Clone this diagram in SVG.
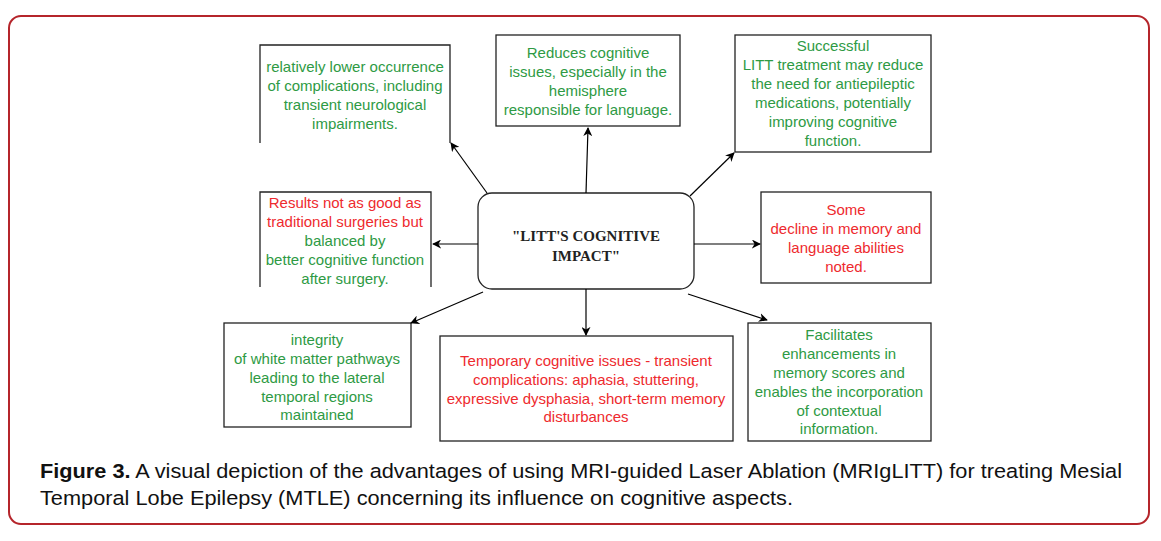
<svg xmlns="http://www.w3.org/2000/svg" width="1161" height="541" viewBox="0 0 1161 541">
<style>
.g{fill:#2e9a44}.r{fill:#ee2a2e}
text{font-family:"Liberation Sans",Arial,sans-serif;font-size:15px;text-anchor:middle}
.b{fill:none;stroke:#222;stroke-width:1.3}
.c line{stroke:#000;stroke-width:1.2;marker-end:url(#a)}
.cap{font-size:20.5px;text-anchor:start;fill:#111}
</style>
<defs><marker id="a" viewBox="0 0 10 10" refX="9" refY="5" markerWidth="9" markerHeight="9" orient="auto" markerUnits="userSpaceOnUse"><path d="M0,0L10,5L0,10L3,5z" fill="#000"/></marker></defs>
<rect x="0" y="0" width="1161" height="541" fill="#fff"/>
<rect x="9" y="16" width="1140" height="508" rx="12" fill="none" stroke="#b5252b" stroke-width="2"/>
<g id="n1"><path class="b" d="M260,143V45H450V143"/><text class="g" x="355" y="72">relatively lower occurrence</text><text class="g" x="355" y="91">of complications, including</text><text class="g" x="355" y="110">transient neurological</text><text class="g" x="355" y="129">impairments.</text></g>
<g id="n2"><rect class="b" x="496" y="35" width="184" height="91"/><text class="g" x="588" y="58">Reduces cognitive</text><text class="g" x="588" y="77">issues, especially in the</text><text class="g" x="588" y="96">hemisphere</text><text class="g" x="588" y="115">responsible for language.</text></g>
<g id="n3"><rect class="b" x="735" y="35" width="196" height="117"/><text class="g" x="833" y="51">Successful</text><text class="g" x="833" y="70">LITT treatment may reduce</text><text class="g" x="833" y="89">the need for antiepileptic</text><text class="g" x="833" y="108">medications, potentially</text><text class="g" x="833" y="127">improving cognitive</text><text class="g" x="833" y="146">function.</text></g>
<g id="n4"><path class="b" d="M260,287V192H431V287"/><text class="r" x="345" y="208">Results not as good as</text><text class="r" x="345" y="227">traditional surgeries but</text><text class="g" x="345" y="246">balanced by</text><text class="g" x="345" y="265">better cognitive function</text><text class="g" x="345" y="284">after surgery.</text></g>
<g id="center"><rect class="b" x="478" y="193" width="216" height="96" rx="14"/><text x="586" y="241" style="font-family:'Liberation Serif',serif;font-weight:bold;font-size:15px;fill:#222">"LITT'S COGNITIVE</text><text x="586" y="261" style="font-family:'Liberation Serif',serif;font-weight:bold;font-size:15px;fill:#222">IMPACT"</text></g>
<g id="n5"><rect class="b" x="761" y="192" width="170" height="91"/><text class="r" x="846" y="215">Some</text><text class="r" x="846" y="234">decline in memory and</text><text class="r" x="846" y="253">language abilities</text><text class="r" x="846" y="272">noted.</text></g>
<g id="n6"><rect class="b" x="224" y="323" width="187" height="104"/><text class="g" x="317" y="345">integrity</text><text class="g" x="317" y="364">of white matter pathways</text><text class="g" x="317" y="383">leading to the lateral</text><text class="g" x="317" y="402">temporal regions</text><text class="g" x="317" y="420">maintained</text></g>
<g id="n7"><rect class="b" x="440" y="336" width="293" height="105"/><text class="r" x="586" y="366">Temporary cognitive issues - transient</text><text class="r" x="586" y="385">complications: aphasia, stuttering,</text><text class="r" x="586" y="404">expressive dysphasia, short-term memory</text><text class="r" x="586" y="422">disturbances</text></g>
<g id="n8"><rect class="b" x="748" y="323" width="183" height="118"/><text class="g" x="839" y="340">Facilitates</text><text class="g" x="839" y="359">enhancements in</text><text class="g" x="839" y="378">memory scores and</text><text class="g" x="839" y="397">enables the incorporation</text><text class="g" x="839" y="416">of contextual</text><text class="g" x="839" y="434">information.</text></g>
<g class="c" id="connectors">
<line x1="487" y1="193" x2="451" y2="143"/>
<line x1="586" y1="193" x2="588" y2="128"/>
<line x1="690" y1="196" x2="734" y2="153"/>
<line x1="478" y1="244" x2="433" y2="244"/>
<line x1="694" y1="244" x2="760" y2="244"/>
<line x1="483" y1="292" x2="411" y2="323"/>
<line x1="586" y1="289" x2="586" y2="335"/>
<line x1="688" y1="294" x2="767" y2="320"/>
</g>
<text class="cap" x="40" y="478" textLength="1082" lengthAdjust="spacingAndGlyphs"><tspan font-weight="bold">Figure 3.</tspan> A visual depiction of the advantages of using MRI-guided Laser Ablation (MRIgLITT) for treating Mesial</text>
<text class="cap" x="40" y="505" textLength="753" lengthAdjust="spacingAndGlyphs">Temporal Lobe Epilepsy (MTLE) concerning its influence on cognitive aspects.</text>
</svg>
